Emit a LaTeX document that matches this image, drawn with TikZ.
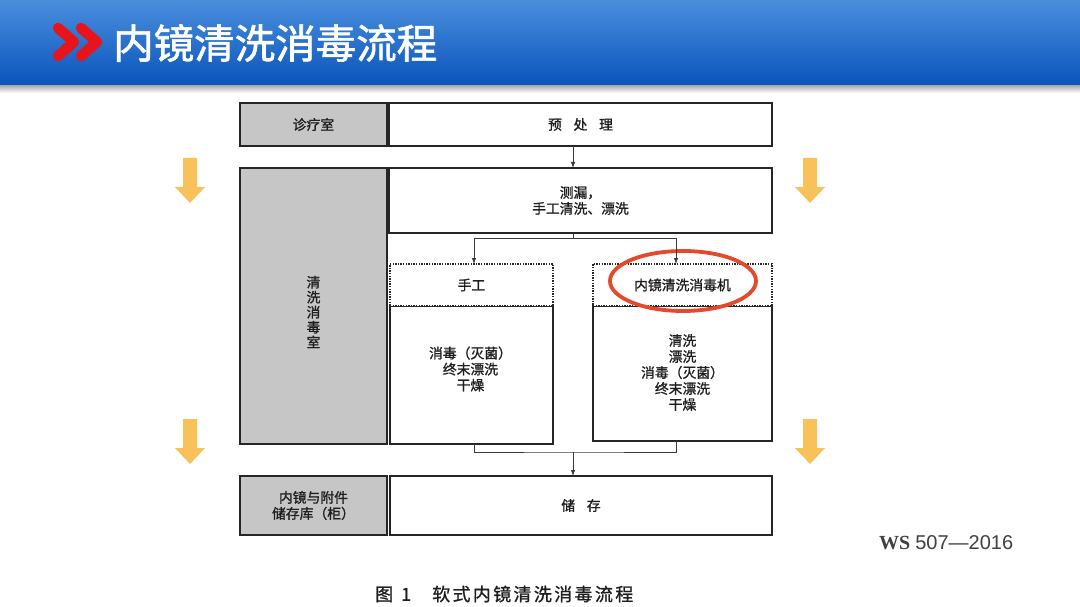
\documentclass[tikz,border=0pt]{standalone}
\usepackage{fontspec}
\usetikzlibrary{shapes.geometric,arrows.meta}
\setmainfont{Liberation Sans}
\newfontfamily\cjk{Noto Sans CJK SC}
\newfontfamily\cjkb[FakeBold=1.2]{Noto Sans CJK SC}
\newfontfamily\cjkt[FakeBold=1.5]{Noto Sans CJK SC}
\newfontfamily\cjkcap[FakeBold=1,LetterSpace=13]{Noto Sans CJK SC}
\newfontfamily\wsserif{Liberation Serif}
\definecolor{tbtop}{HTML}{4A8EDD}
\definecolor{tbbot}{HTML}{0A55BC}
\definecolor{chev}{HTML}{E8141B}
\definecolor{gr}{HTML}{C6C6C6}
\definecolor{bd}{HTML}{262626}
\definecolor{tx}{HTML}{1E1E1E}
\definecolor{ln}{HTML}{3A3A3A}
\definecolor{yel}{HTML}{F9C15A}
\definecolor{ell}{HTML}{E5482A}
\newcommand\yarr[2]{\fill[yel] (#1-7,#2) -- (#1+7,#2) -- (#1+7,#2+29) -- (#1+15,#2+29) -- (#1,#2+45) -- (#1-15,#2+29) -- (#1-7,#2+29) -- cycle;}
\tikzset{
  boxbase/.style={draw=bd, line width=1.8pt, inner sep=0pt, outer sep=0pt, align=center, text=tx,
    font=\cjkb\fontsize{13.8}{16}\selectfont},
  gbox/.style={boxbase, fill=gr},
  wbox/.style={boxbase, fill=white},
  dbox/.style={boxbase, fill=white, dash pattern=on 1.4pt off 1.2pt, line width=2.2pt},
  txt/.style={inner sep=0pt, align=center, text=tx, font=\cjkb\fontsize{13.8}{16}\selectfont},
  flow/.style={draw=ln, line width=0.8pt},
  arr/.style={flow, -{Latex[length=6pt,width=4.5pt]}}
}
\begin{document}
\begin{tikzpicture}[x=1pt,y=-1pt]
\useasboundingbox (0,0) rectangle (1080,607);
\fill[white] (0,0) rectangle (1080,607);
% title bar
\shade[top color=black!40, bottom color=white] (0,84) rectangle (1080,93);
\shade[top color=tbtop, bottom color=tbbot] (0,0) rectangle (1080,85);
\draw[chev, line width=10.5pt, line cap=round, line join=round] (58,28) -- (74,42) -- (58,56);
\draw[chev, line width=10.5pt, line cap=round, line join=round] (81,28) -- (97,42) -- (81,56);
\node[anchor=west, inner sep=0pt, text=white, font=\cjkt\fontsize{40.5}{44}\selectfont] (title) at (113,43) {内镜清洗消毒流程};

% yellow arrows
\yarr{190}{158}
\yarr{190}{419}
\yarr{810}{158}
\yarr{810}{419}

% boxes
\node[gbox, minimum width=147pt, minimum height=43pt] (room1) at (313.5,124.5) {诊疗室};
\node[wbox, minimum width=383pt, minimum height=43pt] (pre) at (580.5,124.5) {预\hspace{0.85em}处\hspace{0.85em}理};
\node[gbox, minimum width=147pt, minimum height=276pt] (room2) at (313.5,306) {};
\node[txt, font=\cjkb\fontsize{13.8}{15}\selectfont] (room2t) at (313.5,312) {清\\洗\\消\\毒\\室};
\node[wbox, minimum width=383pt, minimum height=65pt] (leak) at (580.5,200.5) {测漏，\\手工清洗、漂洗};
\node[wbox, minimum width=163pt, minimum height=138pt] (manbody) at (471.5,375) {};
\node[txt] (manbodyt) at (470.5,369) {消毒（灭菌）\\终末漂洗\\干燥};
\node[dbox, minimum width=163pt, minimum height=42pt] (manhead) at (471.5,285) {手工};
\node[wbox, minimum width=179pt, minimum height=135pt] (macbody) at (682.5,373.5) {};
\node[txt] (macbodyt) at (682.5,372.5) {清洗\\漂洗\\消毒（灭菌）\\终末漂洗\\干燥};
\node[dbox, minimum width=179pt, minimum height=42pt] (machead) at (682.5,285) {内镜清洗消毒机};
\node[gbox, minimum width=147pt, minimum height=59pt] (room3) at (313.5,505.5) {内镜与附件\\储存库（柜）};
\node[wbox, minimum width=382pt, minimum height=59pt] (store) at (581,505.5) {储\hspace{0.85em}存};

% highlight ellipse
\node[draw=ell, line width=3.8pt, ellipse, minimum width=146pt, minimum height=60pt, inner sep=0pt] (hl) at (683,281) {};

% connectors
\coordinate (mx) at (573,0);
\coordinate (sp) at (573,238);
\coordinate (mj) at (573,452);
\draw[arr] (pre.south -| mx) -- (leak.north -| mx);
\draw[flow] (leak.south -| mx) -- (sp);
\draw[arr] (sp) -| ([xshift=2.5pt]manhead.north);
\draw[arr] (sp) -| ([xshift=-6.5pt]machead.north);
\draw[flow] ([xshift=2.5pt]manbody.south) |- (mj) -| ([xshift=-6.5pt]macbody.south);
\draw[arr] (mj) -- (store.north -| mj);

% source and caption
\node[anchor=west, inner sep=0pt, text=black!75] (ws) at (879,543) {{\wsserif\bfseries\fontsize{20}{22}\selectfont WS}\hspace{5pt}{\fontsize{20}{22}\selectfont 507—2016}};
\node[anchor=west, inner sep=0pt, text=tx, font=\cjkcap\fontsize{18}{20}\selectfont] (cap) at (375,594) {图\hspace{8pt}1\hspace{21pt}软式内镜清洗消毒流程};
\end{tikzpicture}
\end{document}
